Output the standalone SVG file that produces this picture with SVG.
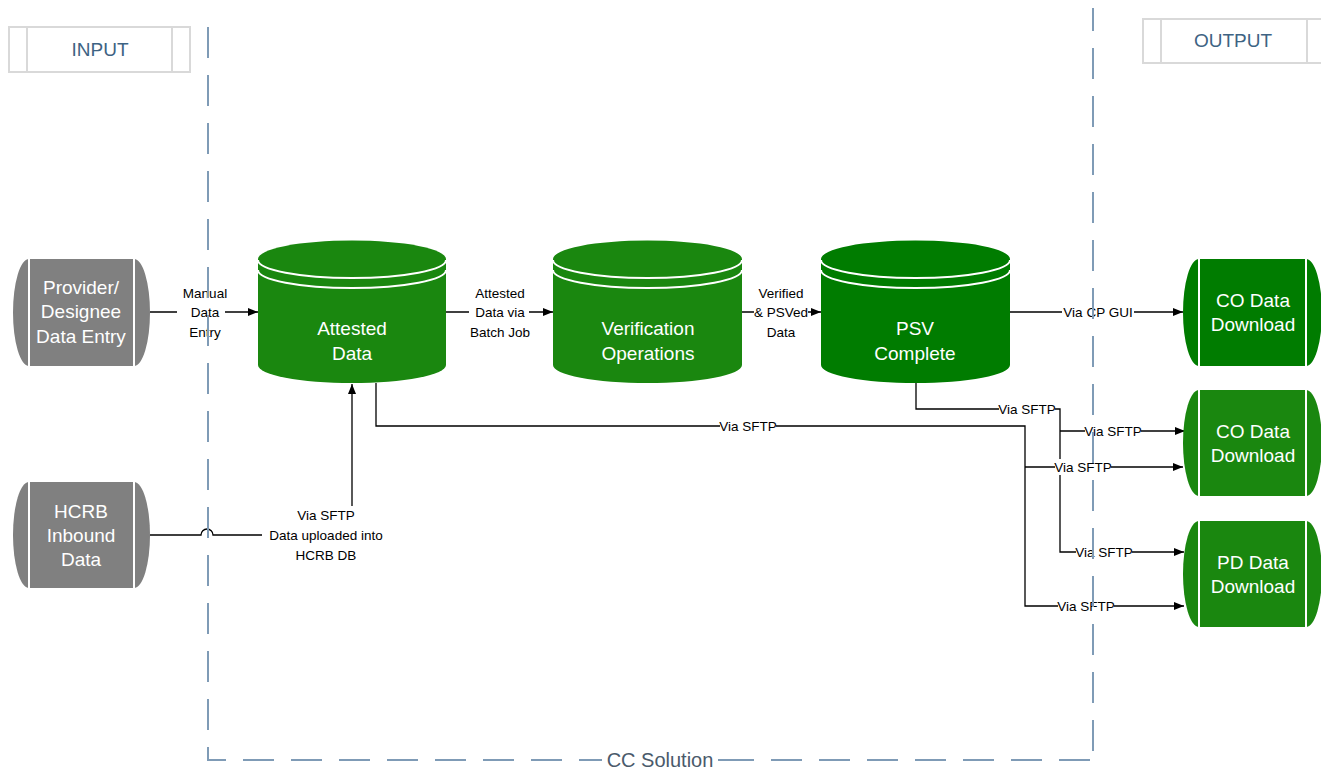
<svg xmlns="http://www.w3.org/2000/svg" width="1321" height="770" viewBox="0 0 1321 770">
<defs>
<marker id="arr" markerWidth="10" markerHeight="8" refX="10" refY="4" orient="auto" markerUnits="userSpaceOnUse">
<path d="M0,0 L10,4 L0,8 Z" fill="#000"/>
</marker>
<style>
.hdr{fill:#fff;stroke:#d9d9d9;stroke-width:2}
.hdrt{font-family:"Liberation Sans",Arial,sans-serif;font-size:19px;fill:#3e6383;text-anchor:middle}
.gray{fill:#808080}
.g1{fill:#1a870f}
.g2{fill:#007c00}
.wl{fill:none;stroke:#fff;stroke-width:2}
.nt{font-family:"Liberation Sans",Arial,sans-serif;font-size:19px;fill:#fff;text-anchor:middle}
.cn{fill:none;stroke:#000;stroke-width:1.3}
.lbl{font-family:"Liberation Sans",Arial,sans-serif;font-size:13.5px;fill:#000;text-anchor:middle}
.bg{fill:#fff}
.bd{fill:none;stroke:#7f9bb6;stroke-width:2;stroke-dasharray:31 17}
</style>
</defs>

<g id="input-header">
<rect class="hdr" x="9" y="27" width="181" height="45"/>
<line x1="27" y1="27" x2="27" y2="72" stroke="#d9d9d9" stroke-width="2"/>
<line x1="172" y1="27" x2="172" y2="72" stroke="#d9d9d9" stroke-width="2"/>
<text class="hdrt" x="100" y="56">INPUT</text>
</g>
<g id="output-header">
<rect class="hdr" x="1143" y="19" width="190" height="44"/>
<line x1="1161" y1="19" x2="1161" y2="63" stroke="#d9d9d9" stroke-width="2"/>
<line x1="1307" y1="19" x2="1307" y2="63" stroke="#d9d9d9" stroke-width="2"/>
<text class="hdrt" x="1233" y="47">OUTPUT</text>
</g>

<g id="connectors">
<path class="cn" d="M150,312 H258" marker-end="url(#arr)"/>
<path class="cn" d="M446,312 H553" marker-end="url(#arr)"/>
<path class="cn" d="M742,312 H821" marker-end="url(#arr)"/>
<path class="cn" d="M1010,312 H1183" marker-end="url(#arr)"/>
<path class="cn" d="M150,535 H201 A6,6 0 0 1 213,535 H352 V384" marker-end="url(#arr)"/>
<path class="cn" d="M376,383 V426 H1025 V606 H1184" marker-end="url(#arr)"/>
<path class="cn" d="M1025,467 H1183" marker-end="url(#arr)"/>
<path class="cn" d="M916,383 V409 H1060 V552 H1184" marker-end="url(#arr)"/>
<path class="cn" d="M1060,431 H1185" marker-end="url(#arr)"/>

<rect class="bg" x="177" y="284" width="48" height="58"/>
<text class="lbl" x="205" y="297.5">Manual</text>
<text class="lbl" x="205" y="316.5">Data</text>
<text class="lbl" x="205" y="336.5">Entry</text>

<rect class="bg" x="469" y="284" width="60" height="58"/>
<text class="lbl" x="500" y="297.5">Attested</text>
<text class="lbl" x="500" y="316.5">Data via</text>
<text class="lbl" x="500" y="336.5">Batch Job</text>

<rect class="bg" x="754" y="284" width="54" height="58"/>
<text class="lbl" x="781" y="297.5">Verified</text>
<text class="lbl" x="781" y="316.5">&amp; PSVed</text>
<text class="lbl" x="781" y="336.5">Data</text>

<rect class="bg" x="1062" y="304" width="72" height="16"/>
<text class="lbl" x="1098" y="316.5">Via CP GUI</text>

<rect class="bg" x="262" y="506" width="128" height="58"/>
<text class="lbl" x="326" y="520">Via SFTP</text>
<text class="lbl" x="326" y="540">Data uploaded into</text>
<text class="lbl" x="326" y="560">HCRB DB</text>

<rect class="bg" x="999" y="401" width="56" height="16"/>
<text class="lbl" x="1027" y="413.5">Via SFTP</text>
<rect class="bg" x="720" y="418" width="56" height="16"/>
<text class="lbl" x="748" y="430.5">Via SFTP</text>
<rect class="bg" x="1085" y="423" width="56" height="16"/>
<text class="lbl" x="1113" y="435.5">Via SFTP</text>
<rect class="bg" x="1055" y="459" width="56" height="16"/>
<text class="lbl" x="1083" y="471.5">Via SFTP</text>
<rect class="bg" x="1076" y="544" width="56" height="16"/>
<text class="lbl" x="1104" y="556.5">Via SFTP</text>
<rect class="bg" x="1058" y="598" width="56" height="16"/>
<text class="lbl" x="1086" y="610.5">Via SFTP</text>
</g>

<g id="provider">
<path class="gray" d="M29,259 H134 A16,53.5 0 0 1 134,366 H29 A16,53.5 0 0 1 29,259 Z"/>
<line class="wl" x1="29" y1="259" x2="29" y2="366"/>
<line class="wl" x1="134" y1="259" x2="134" y2="366"/>
<text class="nt" x="81" y="294">Provider/</text>
<text class="nt" x="81" y="318">Designee</text>
<text class="nt" x="81" y="343">Data Entry</text>
</g>

<g id="hcrb">
<path class="gray" d="M29,482 H134 A16,53 0 0 1 134,588 H29 A16,53 0 0 1 29,482 Z"/>
<line class="wl" x1="29" y1="482" x2="29" y2="588"/>
<line class="wl" x1="134" y1="482" x2="134" y2="588"/>
<text class="nt" x="81" y="518">HCRB</text>
<text class="nt" x="81" y="542">Inbound</text>
<text class="nt" x="81" y="566">Data</text>
</g>

<g id="attested">
<path class="g1" d="M258,259 A94,18.5 0 0 1 446,259 V365 A94,18 0 0 1 258,365 Z"/>
<path class="wl" d="M258,260 A94,18 0 0 0 446,260"/>
<path class="wl" d="M258,270 A94,18 0 0 0 446,270"/>
<text class="nt" x="352" y="335">Attested</text>
<text class="nt" x="352" y="360">Data</text>
</g>

<g id="verification">
<path class="g1" d="M553,259 A94.5,18.5 0 0 1 742,259 V365 A94.5,18 0 0 1 553,365 Z"/>
<path class="wl" d="M553,260 A94.5,18 0 0 0 742,260"/>
<path class="wl" d="M553,270 A94.5,18 0 0 0 742,270"/>
<text class="nt" x="648" y="335">Verification</text>
<text class="nt" x="648" y="360">Operations</text>
</g>

<g id="psv">
<path class="g2" d="M821,259 A94.5,18.5 0 0 1 1010,259 V365 A94.5,18 0 0 1 821,365 Z"/>
<path class="wl" d="M821,260 A94.5,18 0 0 0 1010,260"/>
<path class="wl" d="M821,270 A94.5,18 0 0 0 1010,270"/>
<text class="nt" x="915" y="335">PSV</text>
<text class="nt" x="915" y="360">Complete</text>
</g>

<g id="co-download-1">
<path class="g2" d="M1199,259 H1306 A16,53.5 0 0 1 1306,366 H1199 A16,53.5 0 0 1 1199,259 Z"/>
<line class="wl" x1="1199" y1="259" x2="1199" y2="366"/>
<line class="wl" x1="1306" y1="259" x2="1306" y2="366"/>
<text class="nt" x="1253" y="307">CO Data</text>
<text class="nt" x="1253" y="331">Download</text>
</g>

<g id="co-download-2">
<path class="g1" d="M1199,390 H1306 A16,53 0 0 1 1306,496 H1199 A16,53 0 0 1 1199,390 Z"/>
<line class="wl" x1="1199" y1="390" x2="1199" y2="496"/>
<line class="wl" x1="1306" y1="390" x2="1306" y2="496"/>
<text class="nt" x="1253" y="438">CO Data</text>
<text class="nt" x="1253" y="462">Download</text>
</g>

<g id="pd-download">
<path class="g1" d="M1199,521 H1306 A16,53 0 0 1 1306,627 H1199 A16,53 0 0 1 1199,521 Z"/>
<line class="wl" x1="1199" y1="521" x2="1199" y2="627"/>
<line class="wl" x1="1306" y1="521" x2="1306" y2="627"/>
<text class="nt" x="1253" y="569">PD Data</text>
<text class="nt" x="1253" y="593">Download</text>
</g>

<g id="cc-solution">
<path class="bd" d="M208,27 V760 H1093"/>
<path class="bd" d="M1093,8 V760" style="stroke-dashoffset:8"/>
<rect class="bg" x="602" y="748" width="116" height="22"/>
<text x="660" y="767" font-family="Liberation Sans, Arial, sans-serif" font-size="20" fill="#4a5a6b" text-anchor="middle">CC Solution</text>
<line x1="580" y1="760" x2="602" y2="760" stroke="#7f9bb6" stroke-width="2"/>
<line x1="718" y1="760" x2="740" y2="760" stroke="#7f9bb6" stroke-width="2"/>
</g>
</svg>
